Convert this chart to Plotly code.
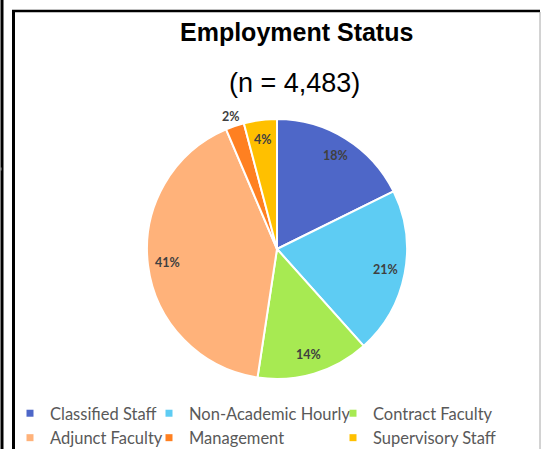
import math

import plotly.graph_objects as go

# slice data, clockwise from 12 o'clock
labels = ["Classified Staff", "Non-Academic Hourly", "Contract Faculty",
          "Adjunct Faculty", "Management", "Supervisory Staff"]
counts = [793, 928, 628, 1847, 103, 184]
colors = ["#4E67C8", "#5ECCF3", "#A7EA52", "#FFB27A", "#FF8021", "#FFC000"]
label_outside = [False, False, False, False, True, False]

title_text = "Employment Status"
n_total = 4483

W, H = 541, 449
CX, CY, R = 277, 249, 130  # pie centre and radius in pixels


def px_x(v):
    return v / W


def px_y(v):
    return 1 - v / H


fig = go.Figure()

fig.add_trace(go.Pie(
    labels=labels,
    values=counts,
    sort=False,
    direction="clockwise",
    rotation=0,
    marker=dict(colors=colors, line=dict(color="white", width=2)),
    textinfo="none",
    showlegend=False,
    hoverinfo="label+value+percent",
    domain=dict(x=[px_x(CX - R), px_x(CX + R)], y=[px_y(CY + R), px_y(CY - R)]),
))

# percentage labels placed like Excel's: near the rim, mid-slice
annotations = []
total = sum(counts)
cum = 0
for v, outside in zip(counts, label_outside):
    ang = math.radians(360 * (cum + v / 2) / total)
    cum += v
    r = R * (1.08 if outside else 0.85)
    annotations.append(dict(
        text=f"<b>{round(100 * v / total)}%</b>",
        x=px_x(CX + r * math.sin(ang)), y=px_y(CY - r * math.cos(ang)),
        xref="paper", yref="paper", xanchor="center", yanchor="middle", showarrow=False,
        font=dict(family="Lato", size=12.5, color="#404040"),
    ))

annotations += [
    dict(text=f"<b>{title_text}</b>", x=px_x(296), y=px_y(32), xref="paper", yref="paper",
         xanchor="center", yanchor="middle", showarrow=False,
         font=dict(family="Liberation Sans", size=25, color="black")),
    dict(text=f"(n = {n_total:,})", x=px_x(294), y=px_y(83), xref="paper", yref="paper",
         xanchor="center", yanchor="middle", showarrow=False,
         font=dict(family="Liberation Sans", size=27, color="black")),
]

# legend laid out in three columns like the original, one legend per column
col_left = [10, 149, 333]
for i, (lab, col) in enumerate(zip(labels, colors)):
    fig.add_trace(go.Scatter(
        x=[None], y=[None], mode="markers", name=lab,
        marker=dict(symbol="square", size=7, color=col),
        legend="legend" if i % 3 == 0 else f"legend{i % 3 + 1}",
        hoverinfo="skip",
    ))

legend_style = dict(
    orientation="v", xanchor="left", yanchor="top", y=px_y(396),
    bgcolor="rgba(0,0,0,0)", borderwidth=0,
    font=dict(family="Lato", size=16.5, color="#595959"),
    itemclick=False, itemdoubleclick=False,
)

frame = dict(type="line", xref="paper", yref="paper")

fig.update_layout(
    width=W, height=H,
    margin=dict(l=0, r=0, t=0, b=0, autoexpand=False),
    paper_bgcolor="white", plot_bgcolor="white",
    xaxis=dict(visible=False), yaxis=dict(visible=False),
    legend=dict(legend_style, x=px_x(col_left[0])),
    legend2=dict(legend_style, x=px_x(col_left[1])),
    legend3=dict(legend_style, x=px_x(col_left[2])),
    annotations=annotations,
    shapes=[
        dict(frame, x0=px_x(2), x1=px_x(2), y0=0, y1=1, line=dict(color="black", width=3)),
        dict(frame, x0=px_x(0), x1=px_x(1.5), y0=px_y(169), y1=px_y(169), line=dict(color="#999999", width=3)),
        dict(frame, x0=px_x(13.5), x1=px_x(13.5), y0=0, y1=px_y(10), line=dict(color="black", width=3)),
        dict(frame, x0=px_x(12), x1=px_x(540), y0=px_y(11), y1=px_y(11), line=dict(color="black", width=2.5)),
        dict(frame, x0=px_x(540), x1=px_x(540), y0=0, y1=px_y(12), line=dict(color="#A6A6A6", width=1)),
    ],
)

fig.write_html("out.html", config={"displayModeBar": False},
               post_script="document.body.style.margin = '0';")
